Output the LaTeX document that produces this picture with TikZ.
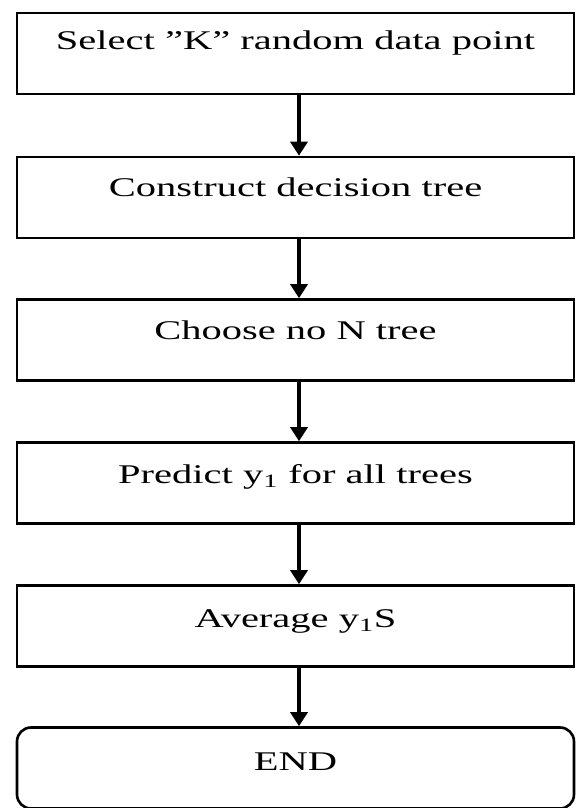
\documentclass[tikz,border=0pt]{standalone}
\usepackage{fontspec}
\setmainfont{Liberation Serif}[Ligatures=ResetAll]
\usetikzlibrary{arrows.meta,calc}
\newcommand{\stx}[1]{\scalebox{1.5}[1]{#1}}
\begin{document}
\begin{tikzpicture}[x=1pt,y=1pt,
  box/.style={draw=black,line width=2.6pt,minimum width=557pt,minimum height=81pt,inner sep=0pt},
  endbox/.style={box,rounded corners=14pt},
  lbl/.style={anchor=base,inner sep=0pt,font=\fontsize{27}{31}\selectfont},
  conn/.style={line width=3.4pt,-{Triangle[width=17pt,length=14pt]}}]
\useasboundingbox (0,0) rectangle (576,808);
\node[box] (b1) at (295.5,808-53.5) {};
\node[box] (b2) at (295.5,808-197.5) {};
\node[box] (b3) at (295.5,808-340) {};
\node[box] (b4) at (295.5,808-483) {};
\node[box] (b5) at (295.5,808-626) {};
\node[endbox] (b6) at (295.5,808-768) {};
\node[lbl] (t1) at ($(b1.north)+(0,-38)$) {\stx{Select "K" random data point}};
\node[lbl] (t2) at ($(b2.north)+(0,-41)$) {\stx{Construct decision tree}};
\node[lbl] (t3) at ($(b3.north)+(0,-41)$) {\stx{Choose no N tree}};
\node[lbl] (t4) at ($(b4.north)+(0,-42)$) {\stx{Predict y\textsubscript{1} for all trees}};
\node[lbl] (t5) at ($(b5.north)+(0,-43)$) {\stx{Average y\textsubscript{1}S}};
\node[lbl] (t6) at ($(b6.north)+(0,-44)$) {\stx{END}};
\foreach \a/\b in {b1/b2,b2/b3,b3/b4,b4/b5,b5/b6}
  \draw[conn] ([xshift=3.5pt]\a.south) -- ([xshift=3.5pt]\b.north);
\end{tikzpicture}
\end{document}
